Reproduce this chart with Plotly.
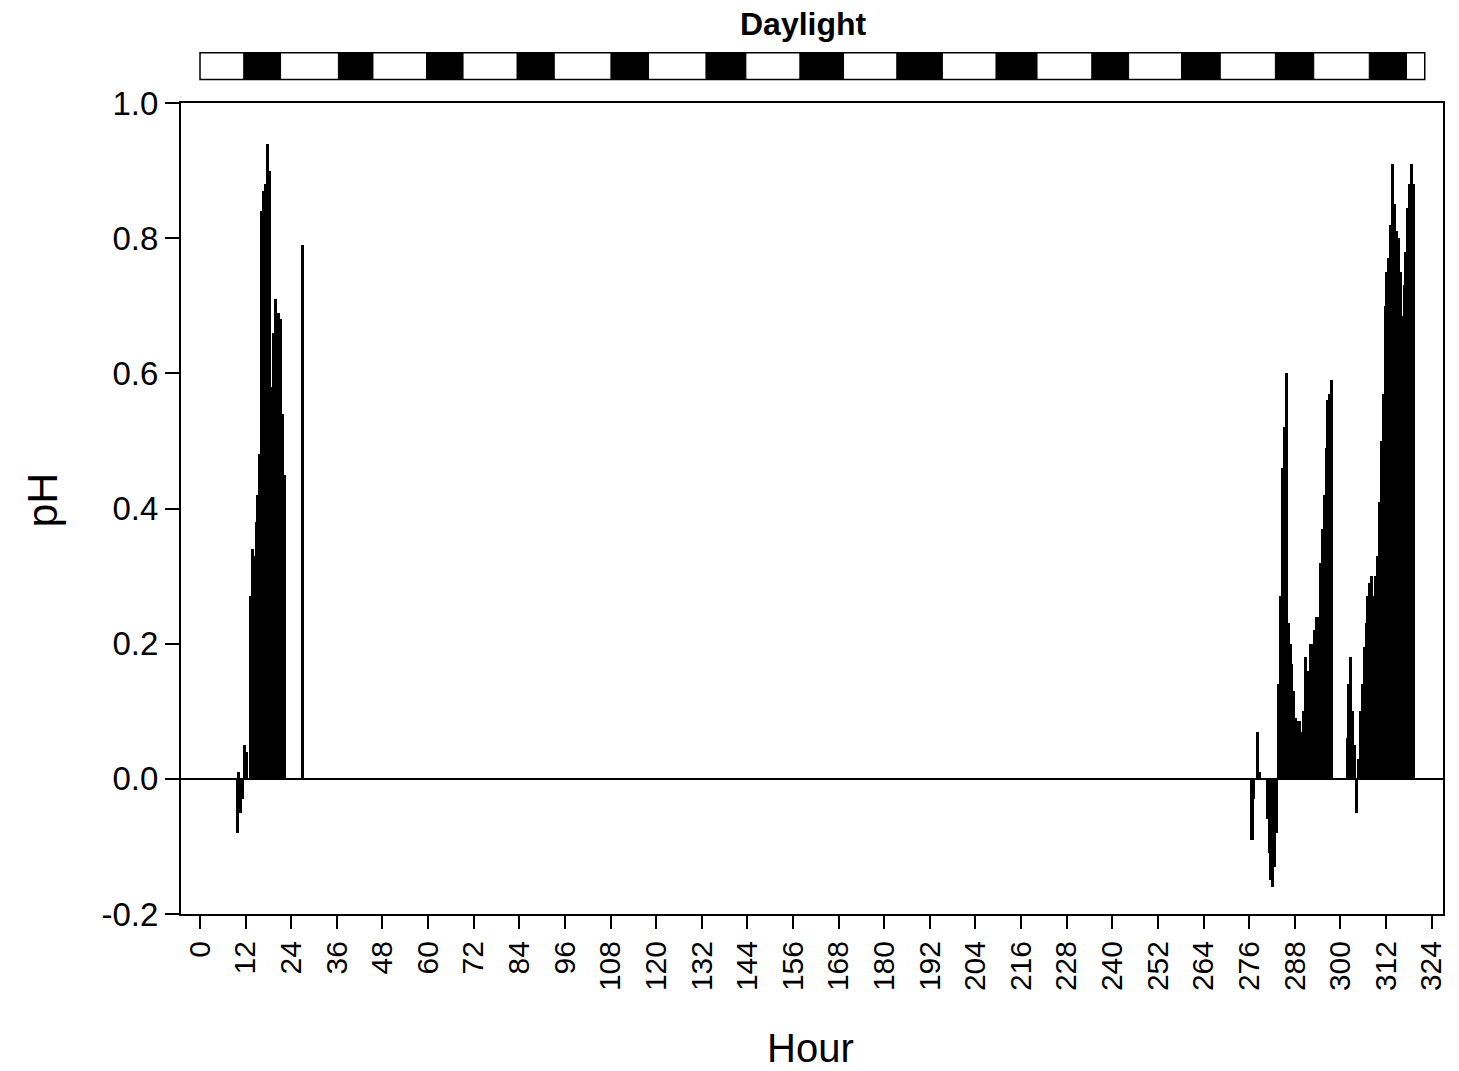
import plotly.graph_objects as go

# ---------------- data ----------------
# half-hour bars, x = centre of the interval (hours)
hours_a = [9.75, 10.25, 10.75, 11.25, 11.75, 12.25,
           13.25, 13.75, 14.25, 14.75, 15.25, 15.75, 16.25, 16.75, 17.25, 17.75,
           18.25, 18.75, 19.25, 19.75, 20.25, 20.75, 21.25, 21.75, 22.25, 27.0]
ph_a = [-0.08, 0.01, -0.05, -0.03, 0.05, 0.04,
        0.27, 0.34, 0.33, 0.38, 0.42, 0.48, 0.84, 0.87, 0.88, 0.94,
        0.90, 0.58, 0.66, 0.71, 0.55, 0.69, 0.68, 0.54, 0.45, 0.79]

hours_b = [276.75, 277.25, 278.25, 278.75,
           280.75, 281.25, 281.75, 282.25, 282.75, 283.25, 283.75, 284.25, 284.75,
           285.25, 285.75, 286.25, 286.75, 287.25, 287.75, 288.25, 288.75, 289.25,
           289.75, 290.25, 290.75, 291.25, 291.75, 292.25, 292.75, 293.25, 293.75,
           294.25, 294.75, 295.25, 295.75, 296.25, 296.75, 297.25, 297.75]
ph_b = [-0.09, -0.03, 0.07, 0.01,
        -0.06, -0.11, -0.15, -0.16, -0.13, -0.08, 0.14, 0.27, 0.46,
        0.52, 0.60, 0.23, 0.20, 0.17, 0.13, 0.09, 0.085, 0.085,
        0.07, 0.10, 0.18, 0.16, 0.16, 0.20, 0.20, 0.22, 0.24,
        0.24, 0.32, 0.37, 0.42, 0.49, 0.56, 0.57, 0.59]

hours_c = [301.75, 302.25, 302.75, 303.25, 303.75, 304.25, 304.75, 305.25, 305.75,
           306.25, 306.75, 307.25, 307.75, 308.25, 308.75, 309.25, 309.75, 310.25,
           310.75, 311.25, 311.75, 312.25, 312.75, 313.25, 313.75, 314.25, 314.75,
           315.25, 315.75, 316.25, 316.75, 317.25, 317.75, 318.25, 318.75, 319.25]
ph_c = [0.06, 0.14, 0.18, 0.10, 0.05, -0.05, 0.03, 0.10, 0.14,
        0.195, 0.23, 0.27, 0.29, 0.30, 0.27, 0.30, 0.33, 0.41,
        0.50, 0.57, 0.70, 0.75, 0.77, 0.82, 0.91, 0.85, 0.81,
        0.80, 0.75, 0.685, 0.73, 0.78, 0.845, 0.88, 0.91, 0.88]

# daylight bar: dark periods (hours)
daylight_start = 0.0
daylight_end = 322.2
dark_start = [11.5, 36.4, 59.6, 83.4, 108.1, 133.1, 157.8, 183.3, 209.4, 234.6, 258.2, 282.9, 307.6]
dark_end = [21.2, 45.5, 69.2, 93.2, 118.0, 143.6, 169.3, 195.3, 220.2, 244.3, 268.4, 293.0, 317.4]

x_ticks = list(range(0, 325, 12))
y_ticks = [-0.2, 0.0, 0.2, 0.4, 0.6, 0.8, 1.0]
y_tick_text = ["-0.2", "0.0", "0.2", "0.4", "0.6", "0.8", "1.0"]

FONT = "Liberation Sans, Arial, sans-serif"

fig = go.Figure()
for hx, py in ((hours_a, ph_a), (hours_b, ph_b), (hours_c, ph_c)):
    fig.add_trace(go.Bar(
        x=hx, y=py, width=0.8,
        marker=dict(color="black", line=dict(width=0)),
        showlegend=False, hoverinfo="x+y"))

# daylight strip
BAR_Y0, BAR_Y1 = 1.029, 1.062
shapes = [dict(type="rect", xref="x", yref="paper", x0=daylight_start, x1=daylight_end,
               y0=BAR_Y0, y1=BAR_Y1, fillcolor="white",
               line=dict(color="black", width=1.5), layer="above")]
for s, e in zip(dark_start, dark_end):
    shapes.append(dict(type="rect", xref="x", yref="paper", x0=s, x1=e,
                       y0=BAR_Y0, y1=BAR_Y1, fillcolor="black",
                       line=dict(color="black", width=1), layer="above"))

fig.update_layout(
    width=1459, height=1071,
    margin=dict(l=181, r=12, t=103, b=157),
    plot_bgcolor="white", paper_bgcolor="white",
    bargap=0, barmode="overlay",
    font=dict(family=FONT, color="black"),
    shapes=shapes,
    annotations=[
        dict(text="<b>Daylight</b>", xref="x", yref="paper", x=158.8, y=1.097,
             showarrow=False, font=dict(size=32, family=FONT, color="black"),
             xanchor="center", yanchor="middle"),
        dict(text="pH", xref="paper", yref="paper", x=-0.11, y=0.51,
             showarrow=False, textangle=-90, font=dict(size=43, family=FONT, color="black"),
             xanchor="center", yanchor="middle"),
        dict(text="Hour", xref="paper", yref="paper", x=0.499, y=-0.165,
             showarrow=False, font=dict(size=40, family=FONT, color="black"),
             xanchor="center", yanchor="middle"),
    ],
    xaxis=dict(range=[-5, 327], tickmode="array", tickvals=x_ticks,
               ticktext=[str(v) for v in x_ticks], tickangle=-90,
               ticks="outside", ticklen=13, tickwidth=2, tickcolor="black",
               showline=True, linecolor="black", linewidth=2, mirror=True,
               showgrid=False, zeroline=False,
               tickfont=dict(size=30, family=FONT, color="black")),
    yaxis=dict(range=[-0.2, 1.0], tickmode="array", tickvals=y_ticks,
               ticktext=y_tick_text,
               ticks="outside", ticklen=14, tickwidth=2, tickcolor="black",
               showline=True, linecolor="black", linewidth=2, mirror=True,
               showgrid=False, zeroline=True, zerolinecolor="black", zerolinewidth=2,
               tickfont=dict(size=33, family=FONT, color="black")),
)

fig.write_html("out.html")
